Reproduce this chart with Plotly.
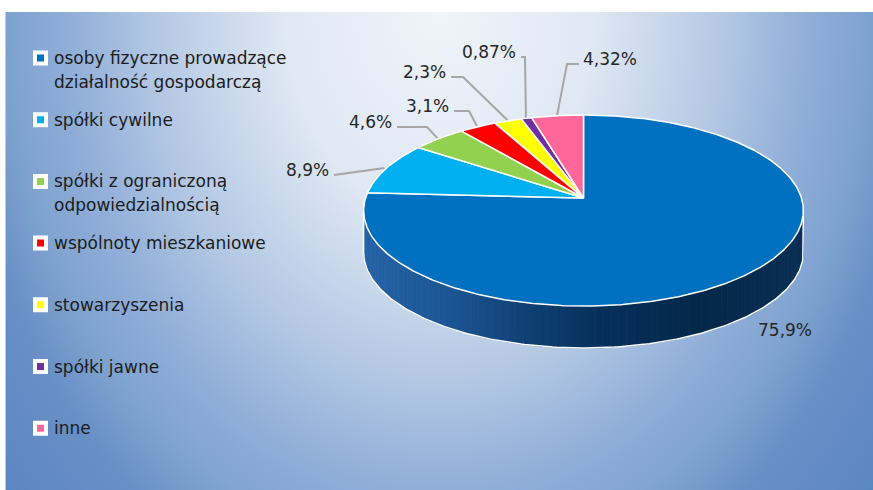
import base64
import textwrap
import numpy as np
import plotly.graph_objects as go

# ---------------- data ----------------
categories = [
    "osoby fizyczne prowadzące działalność gospodarczą",
    "spółki cywilne",
    "spółki z ograniczoną odpowiedzialnością",
    "wspólnoty mieszkaniowe",
    "stowarzyszenia",
    "spółki jawne",
    "inne",
]
values = [75.9, 8.9, 4.6, 3.1, 2.3, 0.87, 4.32]
value_labels = ["75,9%", "8,9%", "4,6%", "3,1%", "2,3%", "0,87%", "4,32%"]

# ---------------- style / layout ----------------
colors = ["#0070C0", "#00B0F0", "#92D050", "#FF0000", "#FFFF00", "#7030A0", "#FF6699"]
W, H = 873, 490
FONT = "DejaVu Sans"
CX, CY = 583.5, 198.0      # pie centre (apex) in pixels
A, B = 218.0, 93.9         # semi axes
K = 0.131                  # perspective factor
DEPTH = 42.0               # pie thickness

# label placement (text reference point, anchor side, elbow length)
label_pos = [(785, 330, "center", 0), (331, 170, "right", 0), (394, 122, "right", 30),
             (451, 106, "right", 15), (448, 72, "right", 12), (518, 52, "right", 4),
             (581, 59, "left", 12)]

legend_x0, legend_y0, legend_step, legend_line = 40.5, 58.0, 61.7, 24.0


def proj(theta_deg, r=1.0, dz=0.0):
    t = np.radians(theta_deg)
    u = r * np.sin(t)
    v = r * np.cos(t)
    s = 1.0 / (1.0 + K * v)
    return CX + A * u * s, CY - B * v * s + dz


def lerp_color(stops, x):
    xs = [p for p, _ in stops]
    cols = [tuple(int(c[i:i + 2], 16) for i in (1, 3, 5)) for _, c in stops]
    x = min(max(x, xs[0]), xs[-1])
    for i in range(len(xs) - 1):
        if xs[i] <= x <= xs[i + 1]:
            f = (x - xs[i]) / (xs[i + 1] - xs[i])
            c = [round(cols[i][j] + f * (cols[i + 1][j] - cols[i][j])) for j in range(3)]
            return "rgb(%d,%d,%d)" % tuple(c)
    return stops[-1][1]


fig = go.Figure()

# ---------------- background gradient ----------------
PW, PH = W - 5, H - 12
svg = f'''<svg xmlns="http://www.w3.org/2000/svg" width="{PW}" height="{PH}" viewBox="0 0 {PW} {PH}">
<defs><radialGradient id="g" gradientUnits="userSpaceOnUse" cx="{PW/2}" cy="0" r="576"
 gradientTransform="matrix(1 0 0 1.2917 0 0)">
<stop offset="0" stop-color="#f0f4fa"/><stop offset="0.27" stop-color="#dfe8f3"/>
<stop offset="0.5" stop-color="#b2c7e3"/><stop offset="0.642" stop-color="#90aed8"/>
<stop offset="0.75" stop-color="#7ea2cf"/><stop offset="0.833" stop-color="#6890c6"/>
<stop offset="1" stop-color="#5a86c0"/></radialGradient></defs>
<rect x="0" y="0" width="{PW}" height="{PH}" fill="url(#g)"/></svg>'''
src = "data:image/svg+xml;base64," + base64.b64encode(svg.encode()).decode()

# ---------------- pie side (only the big slice shows its side) ----------------
side_stops = [(365, "#2563a6"), (450, "#1b5593"), (530, "#0e3f72"), (600, "#06305c"),
              (700, "#042848"), (800, "#0a2e55")]
th_r = np.degrees(np.arccos(-K))
th_l = 360 - th_r
edges = np.linspace(th_r, th_l, 90)
for a0, a1 in zip(edges[:-1], edges[1:]):
    x0, y0 = proj(a0)
    x1, y1 = proj(a1)
    col = lerp_color(side_stops, (x0 + x1) / 2)
    fig.add_trace(go.Scatter(x=[x0, x1, x1, x0, x0], y=[y0, y1, y1 + DEPTH, y0 + DEPTH, y0],
                             mode="lines", fill="toself", fillcolor=col,
                             line=dict(color=col, width=0.8), hoverinfo="skip", showlegend=False))
arc = np.linspace(th_r, th_l, 200)
bx, by = proj(arc, dz=DEPTH)
tx0, ty0 = proj(th_r)
tx1, ty1 = proj(th_l)
fig.add_trace(go.Scatter(x=[tx0] + list(bx) + [tx1], y=[ty0] + list(by) + [ty1], mode="lines",
                         line=dict(color="white", width=1.5), hoverinfo="skip", showlegend=False))

# ---------------- pie top ----------------
total = sum(values)
start = 0.0
mids = []
for val, col in zip(values, colors):
    span = 360.0 * val / total
    ths = np.linspace(start, start + span, max(3, int(span * 2)))
    px, py = proj(ths)
    fig.add_trace(go.Scatter(x=[CX] + list(px) + [CX], y=[CY] + list(py) + [CY], mode="lines",
                             fill="toself", fillcolor=col, line=dict(color="white", width=1.5),
                             hoverinfo="skip", showlegend=False))
    mids.append(start + span / 2)
    start += span

# ---------------- data labels with leader lines ----------------
annotations = []
for i, (txt, mid) in enumerate(zip(value_labels, mids)):
    lx, ly, side, elbow = label_pos[i]
    annotations.append(dict(x=lx, y=ly, xref="x", yref="y", text=txt, showarrow=False,
                            xanchor=side, yanchor="middle",
                            font=dict(family=FONT, size=17, color="#262626")))
    if side == "center":
        continue
    ax, ay = proj(mid, r=1.01)
    if side == "right":
        sx = lx + 3
        ex = sx + elbow
    else:
        sx = lx - 2
        ex = sx - elbow
    fig.add_trace(go.Scatter(x=[sx, ex, ax], y=[ly + 5, ly + 5, ay], mode="lines",
                             line=dict(color="#a6a6a6", width=2), hoverinfo="skip", showlegend=False))

# ---------------- legend ----------------
for i, (cat, col) in enumerate(zip(categories, colors)):
    yy = legend_y0 + i * legend_step
    fig.add_trace(go.Scatter(x=[legend_x0], y=[yy], mode="markers",
                             marker=dict(symbol="square", size=11, color=col,
                                         line=dict(color="white", width=4)),
                             hoverinfo="skip", showlegend=False))
    for j, line in enumerate(textwrap.wrap(cat, 26)):
        annotations.append(dict(x=52, y=yy + j * legend_line, xref="x", yref="y", text=line,
                                showarrow=False, xanchor="left", yanchor="middle",
                                font=dict(family=FONT, size=17, color="#1c1c1c")))

fig.update_layout(
    width=W, height=H, margin=dict(l=0, r=0, t=0, b=0),
    paper_bgcolor="white", plot_bgcolor="rgba(0,0,0,0)",
    xaxis=dict(range=[0, W], visible=False, fixedrange=True),
    yaxis=dict(range=[H, 0], visible=False, fixedrange=True),
    images=[dict(source=src, xref="paper", yref="paper", x=5 / W, y=1 - 12 / H,
                 sizex=PW / W, sizey=PH / H, sizing="stretch", xanchor="left", yanchor="top",
                 layer="below")],
    shapes=[dict(type="line", xref="x", yref="y", x0=5.5, x1=5.5, y0=12, y1=H,
                 line=dict(color="#c8c8c8", width=1))],
    annotations=annotations,
    showlegend=False,
)

fig.write_html("out.html", config={"displayModeBar": False, "staticPlot": True},
               post_script="document.body.style.margin='0';document.body.style.overflow='hidden';")
